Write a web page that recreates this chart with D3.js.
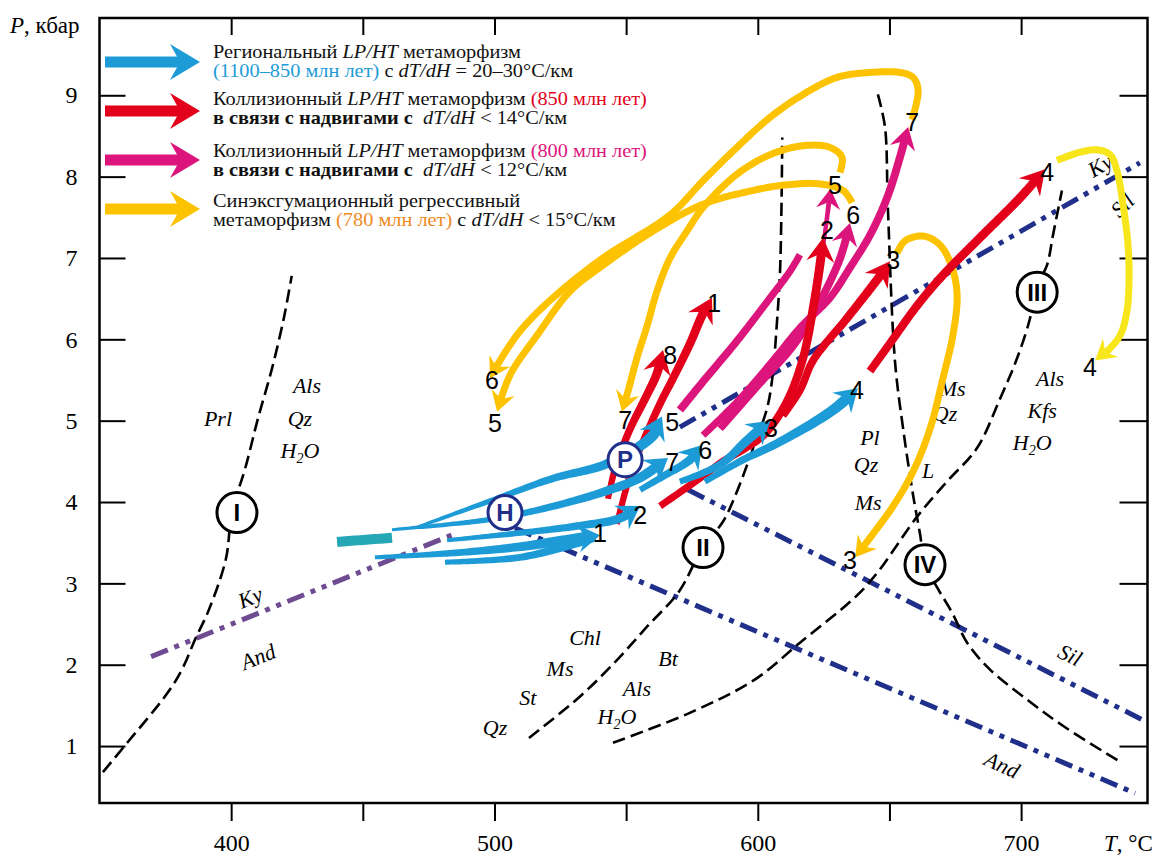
<!DOCTYPE html>
<html>
<head>
<meta charset="utf-8">
<script src="https://cdn.jsdelivr.net/npm/d3@7"></script>
<style>
  body { margin: 0; background: #fff; }
  svg { display: block; font-family: "Liberation Serif", "Times New Roman", serif; }
  text { white-space: pre; }
</style>
</head>
<body>
<svg id="chart" width="1164" height="857"></svg>
<script>
// ---- data (T in °C, P in kbar) ----
var tempTicks = [400, 450, 500, 550, 600, 650, 700];
var pressTicks = [1, 2, 3, 4, 5, 6, 7, 8, 9];

// reaction curves (black dashed)
var curveI = [[351.3,0.68],[360,1.02],[376,1.66],[381.3,1.94],[386.3,2.31],[391.6,2.68],[398,3.30],[400.3,3.88],[405.3,4.41],[410.2,5.03],[415.5,5.64],[420,6.26],[423,6.78]];
var curveII = [[513.1,1.10],[532.5,1.61],[546.6,2.06],[558,2.47],[570.1,2.90],[579.2,3.45],[586.8,3.76],[592.1,4.13],[598.2,4.66],[603.5,5.15],[605.5,5.52],[607.3,6.22],[608.5,6.88],[609.3,8.48]];
var curveIII = [[545,1.04],[575,1.42],[599,1.82],[616,2.27],[637.3,2.84],[645.6,3.14],[660.5,3.82],[671.8,4.25],[683.2,4.66],[692,5.27],[698.5,5.77],[703.4,6.26],[705.3,6.61],[709.8,6.91],[712.1,7.28],[715.5,7.83]];
var curveIV = [[645.6,9.01],[648.3,8.61],[649.4,7.62],[652.1,5.73],[655.2,4.90],[659,4.08],[661.6,3.61],[663.5,3.24],[668.1,2.95],[673.8,2.64],[679.5,2.27],[688.2,1.94],[702.3,1.57],[716.3,1.24],[736.9,0.82]];

// Al2SiO5 lines (dash-dot)
var kyAndLine = [[369.6,2.10],[485.8,3.62]];
var kySilLine = [[570.4,4.92],[745.1,8.17]];
var andSilLineA = [[573.5,4.15],[747.5,1.30]];
var andSilLineB = [[507.8,3.68],[743.3,0.42]];

// regional LP/HT (blue)
var regionalPaths = [
  { head: true,  w: [3, 11], pts: [[470.6,3.69],[497.2,4.0],[522.2,4.29],[542.7,4.47],[560.2,4.82],[563.6,5.05]] },
  { head: true,  w: [3, 10], pts: [[461.1,3.66],[497.2,3.78],[516.2,3.90],[540.1,4.11],[555.3,4.30],[565.9,4.54]] },
  { head: true,  w: [4, 9],  pts: [[482,3.53],[509.7,3.62],[532.5,3.71],[547.7,3.80],[555.3,3.95]] },
  { head: true,  w: [4, 11], pts: [[454.6,3.32],[483.1,3.37],[509.7,3.45],[526.8,3.53],[540.1,3.59]] },
  { head: false, w: [5, 9],  pts: [[481.2,3.26],[509.7,3.32],[528.7,3.47],[538.2,3.57]] },
  { head: true,  w: [6, 9],  pts: [[555.3,4.15],[564.8,4.33],[574.3,4.52],[578.9,4.70]] },
  { head: true,  w: [6, 10], pts: [[570.4,4.25],[585.7,4.46],[596,4.76],[604.7,5.0]] },
  { head: true,  w: [6, 11], pts: [[579.9,4.25],[593.3,4.5],[608.4,4.74],[628.5,5.13],[638,5.40]] }
];
var regionalStub = [[440.2,3.51],[461.1,3.56]];

// collisional 850 Ma (red)
var collision850Paths = [
  { w: [6, 9], pts: [[543.1,4.04],[545.8,4.41],[551.5,4.90],[557.2,5.27],[561.7,5.58],[564,5.87]] },
  { w: [6, 9], pts: [[546.5,3.73],[552.2,4.41],[556.4,4.74],[562.9,5.21],[567.8,5.52],[574.3,5.95],[579.2,6.32],[582.6,6.51]] },
  { w: [7, 9], pts: [[562.9,3.95],[579.2,4.32],[586.8,4.50],[595.2,4.66],[602.8,4.84],[611.1,5.24],[617.2,5.77],[621,6.38],[623.7,6.94],[624.8,7.25]] },
  { w: [7, 9], pts: [[609.6,5.06],[616,5.37],[621,5.74],[633.9,6.26],[646.4,6.78],[650.2,6.96]] },
  { w: [8, 9], pts: [[642.6,5.61],[650.2,5.95],[659.7,6.38],[669.2,6.75],[684.4,7.25],[699.6,7.74],[709.1,8.09]] }
];

// collisional 800 Ma (magenta)
var collision800Paths = [
  { head: true,  w: [7, 8], pts: [[579.2,4.82],[593.3,5.27],[606.6,5.77],[616,6.14],[627.4,6.51],[635,6.88],[642.6,7.28],[649.1,7.74],[654,8.24],[657.1,8.61]] },
  { head: true,  w: [7, 8], pts: [[585.7,4.90],[600.9,5.46],[614.2,5.95],[623.7,6.47],[631.3,7.0],[635,7.43]] },
  { head: false, w: [8, 7], pts: [[570.4,5.13],[579.2,5.48],[592.1,5.98],[604.7,6.51],[612.3,6.84],[616,7.04]] },
  { head: true,  w: [3, 5], pts: [[621.7,6.57],[624.4,7.06],[626.5,7.55],[627.6,7.85]] }
];

// syn-exhumation 780 Ma (yellow)
var exhumationPaths = [
  [[658.6,8.70],[660.9,9.06],[659,9.22],[654,9.28],[642.6,9.28],[630.1,9.22],[617.2,9.01],[604.7,8.73],[592.1,8.36],[579.2,7.95],[566.7,7.53],[541.2,7.0],[522.2,6.51],[509.7,6.10],[501,5.68],[498.3,5.52]],
  [[631.2,8.05],[632,8.24],[627.4,8.36],[617.2,8.38],[604.7,8.27],[592.1,8.03],[579.2,7.62],[573.1,7.33],[566.7,7.0],[561.7,6.59],[558,6.17],[554.1,5.77],[550.7,5.36],[548.4,5.11]],
  [[635.8,7.68],[632.4,7.83],[623.7,7.91],[611.1,7.90],[598.2,7.83],[579.2,7.66],[560.2,7.33],[541.2,6.91],[528.7,6.59],[516.2,6.05],[505.9,5.56],[501,5.11]],
  [[652.9,7.06],[655.9,7.21],[662.8,7.27],[669.2,7.16],[673.8,6.88],[675.7,6.54],[674.1,6.05],[670.3,5.52],[665.4,4.90],[658.9,4.37],[651.4,3.95],[643.8,3.61],[637,3.32]]
];
var exhumationPathLemon = [[713.6,8.20],[722.4,8.30],[728.8,8.33],[733.8,8.27],[736.4,8.07],[738.7,7.66],[740.6,7.16],[741,6.75],[740.2,6.35],[737.6,6.05],[731.9,5.83],[728.1,5.74]];

// arrow numbers
var regionalLabels = [['1',540.1,3.62],['2',555.3,3.84],['7',567.5,4.49],['6',580,4.64],['5',567.5,4.98],['3',605,4.91],['4',637.7,5.38]];
var collision850Labels = [['1',583.4,6.45],['8',566.7,5.81],['2',626.3,7.34],['3',651.4,6.97],['4',709.9,8.06]];
var collision800Labels = [['5',629.3,7.90],['6',636.2,7.53],['7',658.6,8.67]];
var exhumationLabels = [['6',499,5.50],['5',500.2,4.97],['7',549.6,5.01],['3',635,3.29],['4',726.1,5.66]];

var zoneCircles = [['I',402.2,3.87],['II',579.2,3.44],['III',706.1,6.58],['IV',663.5,3.23]];
var pathCircles = [['H',504,3.87],['P',549.6,4.52]];

var mineralLabels = [
  ['Prl',395,5.03,0],
  ['Als',428.8,5.44,0],['Qz',426.1,5.03,0],['H_2O',426.1,4.64,0],
  ['Ky',407.2,2.83,-22],['And',410.2,2.10,-22],
  ['Chl',534.4,2.34,0],['Ms',524.9,1.96,0],['St',512.7,1.60,0],['Qz',500.2,1.23,0],
  ['Bt',565.9,2.08,0],['Als',554.1,1.71,0],['H_2O',546.5,1.37,0],
  ['Pl',642.6,4.79,0],['Qz',641.1,4.46,0],['Ms',641.9,4.0,0],
  ['Ms',673.8,5.40,0],['Qz',671.1,5.09,0],['L',664.7,4.39,0],
  ['Als',711,5.52,0],['Kfs',708,5.13,0],['H_2O',704.2,4.74,0],
  ['Ky',730,8.14,-30],['Sil',738.4,7.65,-45],
  ['Sil',718.6,2.12,26],['And',692.8,0.77,24]
];

// legend: arrow colour, age colour, two text lines
var legendColors = ['#1d9bd7', '#e2001a', '#dc157d', '#fdc300'];
var legendAgeColors = ['#1d9bd7', '#e2001a', '#dc157d', '#ef8a1d'];
var legendLines = [
  [[['Региональный '],['LP/HT','i'],[' метаморфизм']],
   [['(1100–850 млн лет)','c'],[' с '],['dT/dH','i'],[' = 20–30°C/км']]],
  [[['Коллизионный '],['LP/HT','i'],[' метаморфизм '],['(850 млн лет)','c']],
   [['в связи с надвигами с','b'],['  '],['dT/dH','i'],[' < 14°C/км']]],
  [[['Коллизионный '],['LP/HT','i'],[' метаморфизм '],['(800 млн лет)','c']],
   [['в связи с надвигами с','b'],['  '],['dT/dH','i'],[' < 12°C/км']]],
  [[['Синэксгумационный регрессивный']],
   [['метаморфизм '],['(780 млн лет)','c'],[' с '],['dT/dH','i'],[' < 15°C/км']]]
];

// ---- chart ----
var svg = d3.select('#chart');
var x = d3.scaleLinear().domain([350, 748]).range([99.5, 1147.5]);
var y = d3.scaleLinear().domain([0.3, 9.95]).range([803, 18]);

var BLUE = '#1d9bd7', RED = '#e2001a', MAG = '#dc157d', GOLD = '#fdc300', LEMON = '#f7e61b';
var NAVY = '#1f2f8a', PURPLE = '#6f4c91';
var SANS = '"Liberation Sans", Arial, sans-serif';

var lineGen = d3.line()
  .x(function (d) { return x(d[0]); })
  .y(function (d) { return y(d[1]); })
  .curve(d3.curveCatmullRom.alpha(0.5));

var measure = svg.append('path').attr('fill', 'none').attr('stroke', 'none');

// tapered ribbon with a notched head, built along the data curve
function drawArrow(g, pts, color, w0, w1, head) {
  measure.attr('d', lineGen(pts));
  var node = measure.node();
  var L = node.getTotalLength();
  var hl = head ? head[0] : 0, hw = head ? head[1] : 0;
  var end = head ? L - hl * 0.5 : L;
  var N = Math.max(12, Math.ceil(end / 3));
  var left = [], right = [];
  for (var i = 0; i <= N; i++) {
    var s = end * i / N;
    var p = node.getPointAtLength(s);
    var a = node.getPointAtLength(Math.max(0, s - 1.5));
    var b = node.getPointAtLength(Math.min(L, s + 1.5));
    var dx = b.x - a.x, dy = b.y - a.y, m = Math.hypot(dx, dy) || 1;
    dx /= m; dy /= m;
    var w = (w0 + (w1 - w0) * i / N) / 2;
    left.push([p.x - dy * w, p.y + dx * w]);
    right.push([p.x + dy * w, p.y - dx * w]);
  }
  g.append('path').attr('d', d3.line()(left.concat(right.reverse())) + 'Z').attr('fill', color);
  if (head) {
    var tip = node.getPointAtLength(L), back = node.getPointAtLength(Math.max(0, L - hl));
    var ang = Math.atan2(tip.y - back.y, tip.x - back.x) * 180 / Math.PI;
    g.append('path')
      .attr('d', 'M0,0L' + (-hl) + ',' + (-hw / 2) + 'L' + (-hl * 0.66) + ',0L' + (-hl) + ',' + (hw / 2) + 'Z')
      .attr('fill', color)
      .attr('transform', 'translate(' + tip.x + ',' + tip.y + ') rotate(' + ang + ')');
  }
}

// axes
var axisG = svg.append('g').attr('class', 'axes');
axisG.append('g').attr('transform', 'translate(0,803)')
  .call(d3.axisBottom(x).tickValues(tempTicks).tickSize(18).tickPadding(13)
    .tickFormat(function (d) { return d % 100 ? '' : d; }));
axisG.append('g').attr('transform', 'translate(0,18)')
  .call(d3.axisTop(x).tickValues(tempTicks).tickSize(-17).tickFormat(''));
axisG.append('g').attr('transform', 'translate(99.5,0)')
  .call(d3.axisLeft(y).tickValues(pressTicks).tickSize(-26).tickPadding(22));
axisG.append('g').attr('transform', 'translate(1147.5,0)')
  .call(d3.axisRight(y).tickValues(pressTicks).tickSize(-28).tickFormat(''));
axisG.selectAll('.domain').remove();
axisG.selectAll('.tick line').attr('stroke', '#000').attr('stroke-width', 2);
axisG.selectAll('.tick text')
  .attr('font-family', '"Liberation Serif", serif').attr('font-size', 24).attr('fill', '#000');

svg.append('rect')
  .attr('x', x(350)).attr('y', y(9.95))
  .attr('width', x(748) - x(350)).attr('height', y(0.3) - y(9.95))
  .attr('fill', 'none').attr('stroke', '#000').attr('stroke-width', 2.5);

var pLab = svg.append('text').attr('x', 10).attr('y', 33).attr('font-size', 23);
pLab.append('tspan').attr('font-style', 'italic').text('P');
pLab.append('tspan').text(', кбар');
var tLab = svg.append('text').attr('x', 1104).attr('y', 851).attr('font-size', 23);
tLab.append('tspan').attr('font-style', 'italic').text('T');
tLab.append('tspan').text(', °C');

// Al2SiO5 dash-dot lines
var dashDot = '18,7,5,7,5,7';
svg.append('path').attr('d', lineGen(kyAndLine)).attr('fill', 'none')
  .attr('stroke', PURPLE).attr('stroke-width', 5).attr('stroke-dasharray', dashDot);
[kySilLine, andSilLineA, andSilLineB].forEach(function (ln) {
  svg.append('path').attr('d', lineGen(ln)).attr('fill', 'none')
    .attr('stroke', NAVY).attr('stroke-width', 5).attr('stroke-dasharray', dashDot);
});

// reaction curves
[curveI, curveII, curveIII, curveIV].forEach(function (c) {
  svg.append('path').attr('d', lineGen(c)).attr('fill', 'none')
    .attr('stroke', '#000').attr('stroke-width', 2.6).attr('stroke-dasharray', '13,6');
});

// mineral labels
var minG = svg.append('g');
mineralLabels.forEach(function (d) {
  var t = minG.append('text')
    .attr('transform', 'translate(' + x(d[1]) + ',' + y(d[2]) + ') rotate(' + d[3] + ')')
    .attr('text-anchor', 'middle').attr('dy', '0.35em')
    .attr('font-size', 22).attr('font-style', 'italic');
  if (d[0].indexOf('_') >= 0) {
    var parts = d[0].split('_');
    t.append('tspan').text(parts[0]);
    t.append('tspan').attr('font-size', 14).attr('dy', 5).text(parts[1].charAt(0));
    t.append('tspan').attr('dy', -5).text(parts[1].slice(1));
  } else {
    t.text(d[0]);
  }
});

// arrows
var arrowG = svg.append('g');
exhumationPaths.forEach(function (pts) { drawArrow(arrowG, pts, GOLD, 7, 7, [20, 24]); });
drawArrow(arrowG, exhumationPathLemon, LEMON, 7, 7, [20, 24]);
collision800Paths.forEach(function (a) {
  drawArrow(arrowG, a.pts, MAG, a.w[0], a.w[1], a.head ? (a.w[1] < 6 ? [20, 24] : [22, 26]) : null);
});
collision850Paths.forEach(function (a) { drawArrow(arrowG, a.pts, RED, a.w[0], a.w[1], [24, 28]); });
drawArrow(arrowG, regionalStub, '#25a7b6', 10, 10, null);
regionalPaths.forEach(function (a) { drawArrow(arrowG, a.pts, BLUE, a.w[0], a.w[1], a.head ? [22, 28] : null); });

// circled markers
function circles(list, color, r, fs) {
  list.forEach(function (d) {
    var g = svg.append('g').attr('transform', 'translate(' + x(d[1]) + ',' + y(d[2]) + ')');
    g.append('circle').attr('r', r).attr('fill', '#fff').attr('stroke', color).attr('stroke-width', 3);
    g.append('text').attr('text-anchor', 'middle').attr('dy', '0.36em')
      .attr('font-family', SANS).attr('font-weight', 'bold')
      .attr('font-size', fs).attr('fill', color).text(d[0]);
  });
}
circles(zoneCircles, '#000', 20, 24);
circles(pathCircles, NAVY, 17, 24);

// arrow numbers
[regionalLabels, collision850Labels, collision800Labels, exhumationLabels].forEach(function (list) {
  list.forEach(function (d) {
    svg.append('text').attr('x', x(d[1])).attr('y', y(d[2])).attr('dy', '0.36em')
      .attr('text-anchor', 'middle')
      .attr('font-family', SANS).attr('font-size', 25)
      .attr('fill', '#000').text(d[0]);
  });
});

// legend
var legendArrowY = [62, 111, 160, 209];
var legendBase = [[58, 77], [105, 124], [157, 176], [207, 226]];
var legG = svg.append('g');
legendColors.forEach(function (c, i) {
  var cy = legendArrowY[i];
  legG.append('path')
    .attr('d', 'M105,' + (cy - 5.5) + 'H182V' + (cy + 5.5) + 'H105Z')
    .attr('fill', c);
  legG.append('path')
    .attr('d', 'M200,' + cy + 'L170,' + (cy - 18) + 'L180,' + cy + 'L170,' + (cy + 18) + 'Z')
    .attr('fill', c);
  legendLines[i].forEach(function (line, j) {
    var t = legG.append('text')
      .attr('transform', 'translate(213,' + legendBase[i][j] + ') scale(1.1,1)')
      .attr('font-size', 18.5).attr('fill', '#111');
    line.forEach(function (seg) {
      var ts = t.append('tspan').text(seg[0]);
      if (seg[1] === 'i') ts.attr('font-style', 'italic');
      if (seg[1] === 'b') ts.attr('font-weight', 'bold');
      if (seg[1] === 'c') ts.attr('fill', legendAgeColors[i]);
    });
  });
});
</script>
</body>
</html>
